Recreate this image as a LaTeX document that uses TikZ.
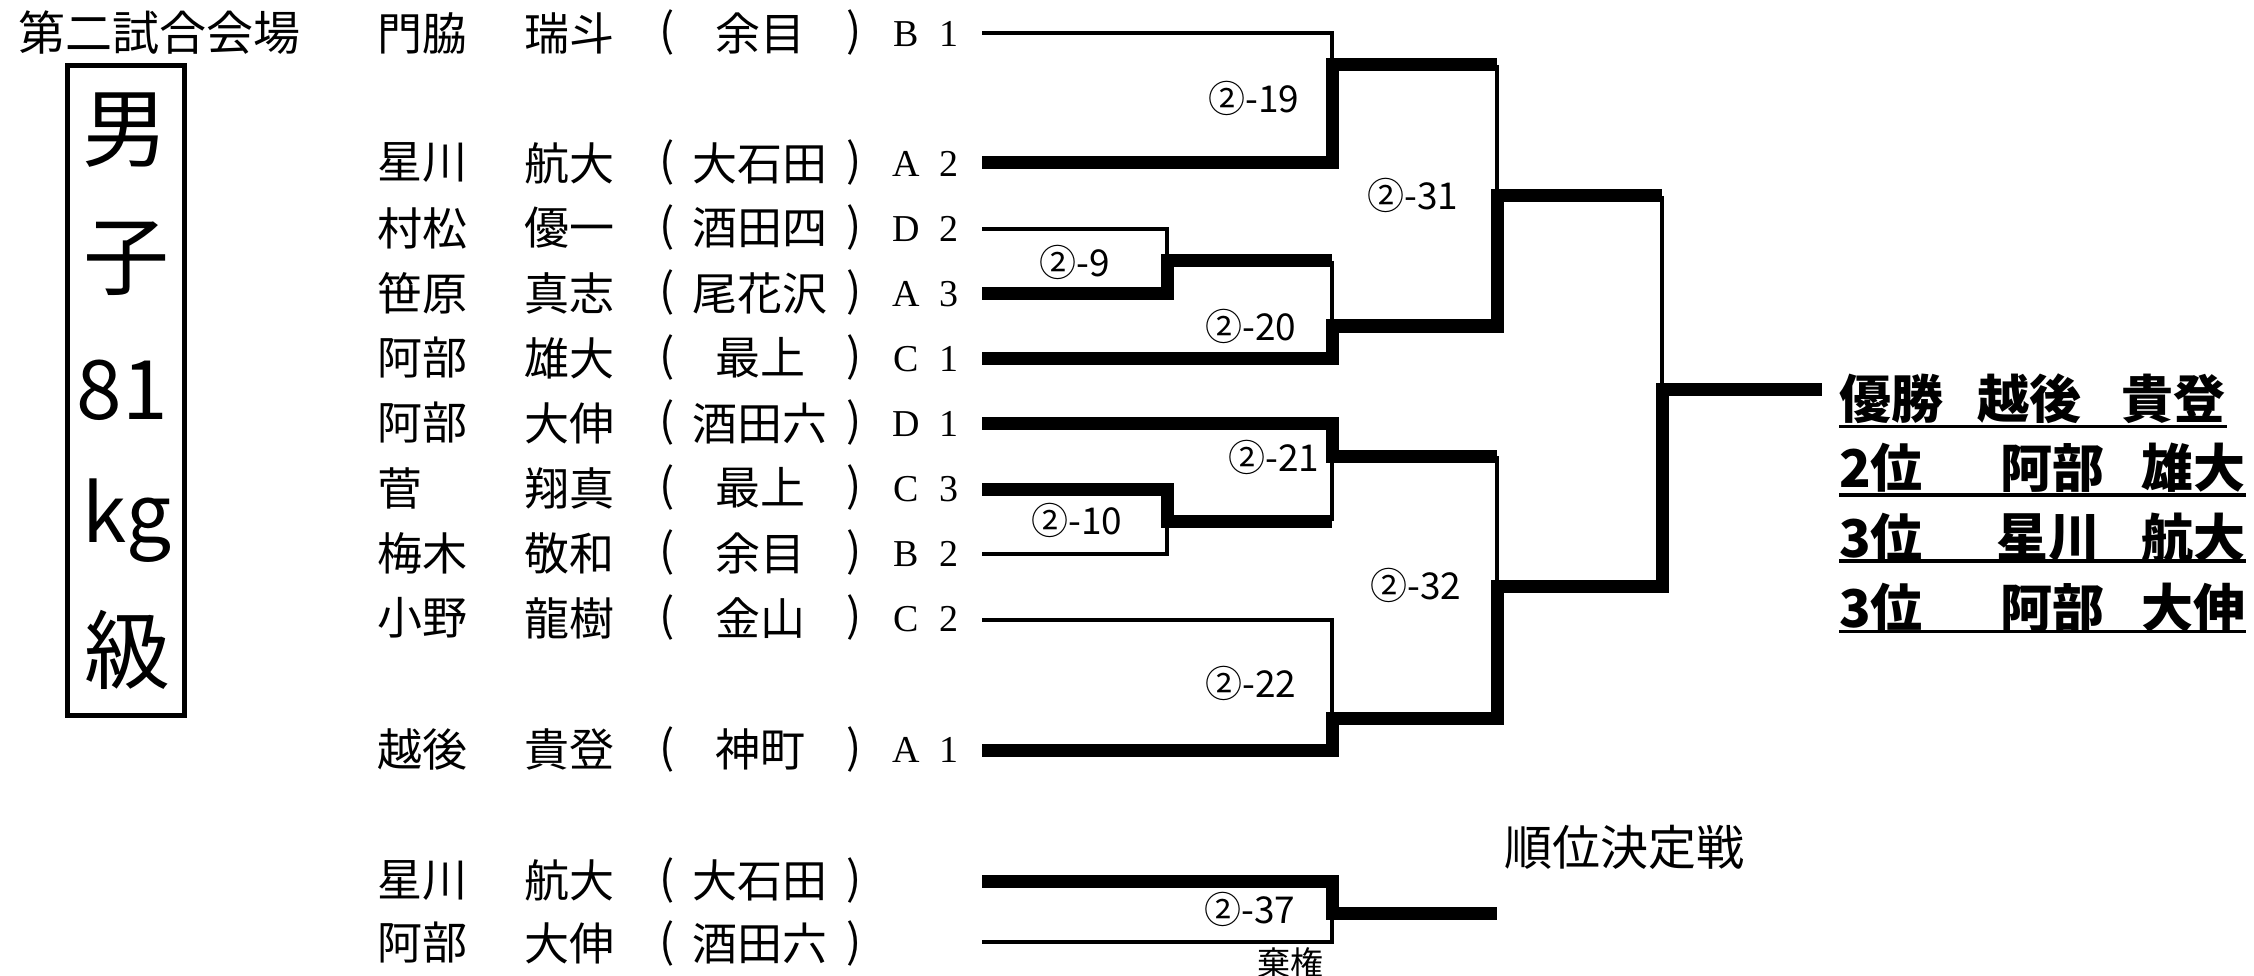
\documentclass[tikz,border=0pt]{standalone}
\usepackage{fontspec}
\newfontfamily\jp{Noto Sans CJK JP}
\newfontfamily\ser{Liberation Serif}
\tikzset{
 nm/.style={inner sep=0pt, font=\jp\fontsize{45}{45}\selectfont},
 code/.style={inner sep=0pt, font=\ser\fontsize{38}{38}\selectfont},
 lbl/.style={inner sep=0pt, font=\jp\fontsize{37}{37}\selectfont},
 res/.style={inner sep=0pt, font=\jp\bfseries\fontsize{52}{52}\selectfont},
 big/.style={inner sep=0pt, font=\jp\fontsize{86}{86}\selectfont},
 ttl/.style={inner sep=0pt, font=\jp\fontsize{47}{47}\selectfont},
 thinln/.style={line width=4pt},
 thickln/.style={line width=13pt, line join=miter},
 uline/.style={line width=3.5pt},
}
\newcommand\entrow[7]{%
 \node[nm,anchor=west] (sn#1) at (377,#2) {#3};
 \node[nm,anchor=west] (gn#1) at (524,#2) {#4};
 \node[nm] (lp#1) at (667,#2) {(};
 \node[nm] (sc#1) at (760,#2) {#5};
 \node[nm] (rp#1) at (854,#2) {)};
 \node[code] (lt#1) at (906,#2+1) {#6};
 \node[code] (dg#1) at (949,#2+1) {#7};
}
\newcommand\entrowb[5]{%
 \node[nm,anchor=west] (sn#1) at (377,#2) {#3};
 \node[nm,anchor=west] (gn#1) at (524,#2) {#4};
 \node[nm] (lp#1) at (667,#2) {(};
 \node[nm] (sc#1) at (760,#2) {#5};
 \node[nm] (rp#1) at (854,#2) {)};
}
\begin{document}
\begin{tikzpicture}[x=1pt,y=-1pt]
\useasboundingbox (0,0) rectangle (2254,976);
% title and class box
\node[ttl] (venue) at (159,33) {第二試合会場};
\node[draw, line width=5pt, minimum width=117pt, minimum height=650pt, inner sep=0pt] (box) at (126,390.5) {};
\node[big] (c1) at (125,130) {男};
\node[big] (c2) at (126,259) {子};
\node[big, font=\jp\fontsize{82}{82}\selectfont] (c3) at (122,390) {81};
\node[big, font=\jp\fontsize{80}{80}\selectfont] (c4) at (127,521) {kg};
\node[big] (c5) at (127,650) {級};
% entries
\entrow{1}{33}{門脇}{瑞斗}{余目}{B}{1}
\entrow{2}{163}{星川}{航大}{大石田}{A}{2}
\entrow{3}{228}{村松}{優一}{酒田四}{D}{2}
\entrow{4}{293}{笹原}{真志}{尾花沢}{A}{3}
\entrow{5}{358}{阿部}{雄大}{最上}{C}{1}
\entrow{6}{423}{阿部}{大伸}{酒田六}{D}{1}
\entrow{7}{488}{菅}{翔真}{最上}{C}{3}
\entrow{8}{553}{梅木}{敬和}{余目}{B}{2}
\entrow{9}{618}{小野}{龍樹}{金山}{C}{2}
\entrow{10}{749}{越後}{貴登}{神町}{A}{1}
\entrowb{11}{880}{星川}{航大}{大石田}
\entrowb{12}{943}{阿部}{大伸}{酒田六}
% line starts
\coordinate (L1) at (982,33);
\coordinate (L2) at (982,163);
\coordinate (L3) at (982,229);
\coordinate (L4) at (982,294);
\coordinate (L5) at (982,358);
\coordinate (L6) at (982,423);
\coordinate (L7) at (982,489);
\coordinate (L8) at (982,554);
\coordinate (L9) at (982,620);
\coordinate (L10) at (982,750);
\coordinate (L11) at (982,881);
\coordinate (L12) at (982,942);
% joins
\coordinate (J9) at (1167,261);
\coordinate (J10) at (1167,521);
\coordinate (J19) at (1332,65);
\coordinate (J20) at (1332,326);
\coordinate (J21) at (1332,456);
\coordinate (J22) at (1332,718);
\coordinate (J31) at (1497,196);
\coordinate (J32) at (1497,586);
\coordinate (JF) at (1662,389);
\coordinate (W) at (1822,389);
\coordinate (J37) at (1332,913);
\coordinate (E37) at (1497,913);
% thin lines
\draw[thinln] (L1) -| (J19);
\draw[thinln] (L3) -| (J9);
\draw[thinln] (J20 |- J9) -- (J20);
\draw[thinln] (J31 |- J19) -- (J31);
\draw[thinln] (JF |- J31) -- (JF);
\draw[thinln] (L8) -| (J10);
\draw[thinln] (J21 |- J10) -- (J21);
\draw[thinln] (J32 |- J21) -- (J32);
\draw[thinln] (L9) -| (J22);
\draw[thinln] (L12) -| (J37);
% thick lines
\draw[thickln] (L2) -| (J19) -- (J31 |- J19);
\draw[thickln] (L4) -| (J9) -- (J20 |- J9);
\draw[thickln] (L5) -| (J20) -- (J31 |- J20) -- (J31) -- (JF |- J31);
\draw[thickln] (L6) -| (J21) -- (J32 |- J21);
\draw[thickln] (L7) -| (J10) -- (J21 |- J10);
\draw[thickln] (L10) -| (J22) -- (J32 |- J22) -- (J32) -- (JF |- J32) -- (JF) -- (W);
\draw[thickln] (L11) -| (J37) -- (E37);
% match labels
\node[lbl] (m19) at (1254,98) {②-19};
\node[lbl] (m31) at (1413,195) {②-31};
\node[lbl] (m9) at (1075,262) {②-9};
\node[lbl] (m20) at (1251,326) {②-20};
\node[lbl] (m21) at (1274,457) {②-21};
\node[lbl] (m10) at (1077,520) {②-10};
\node[lbl] (m32) at (1416,585) {②-32};
\node[lbl] (m22) at (1251,683) {②-22};
\node[lbl] (m37) at (1250,909) {②-37};
\node[lbl, font=\jp\fontsize{33}{33}\selectfont] (kiken) at (1290,963) {棄権};
\node[ttl, font=\jp\fontsize{48}{48}\selectfont] (juni) at (1624,847) {順位決定戦};
% results
\node[res] (r1a) at (1891,399) {優勝};
\node[res] (r1b) at (2029,399) {越後};
\node[res] (r1c) at (2173,399) {貴登};
\node[res] (r2a) at (1881,468) {2位};
\node[res] (r2b) at (2052,468) {阿部};
\node[res] (r2c) at (2193,468) {雄大};
\node[res] (r3a) at (1881,538) {3位};
\node[res] (r3b) at (2048,538) {星川};
\node[res] (r3c) at (2193,538) {航大};
\node[res] (r4a) at (1881,608) {3位};
\node[res] (r4b) at (2052,608) {阿部};
\node[res] (r4c) at (2193,608) {大伸};
\draw[uline] (1839,426.5) -- (2227,426.5);
\draw[uline] (1839,495) -- (2246,495);
\draw[uline] (1839,561) -- (2246,561);
\draw[uline] (1839,631.5) -- (2246,631.5);
\end{tikzpicture}
\end{document}
